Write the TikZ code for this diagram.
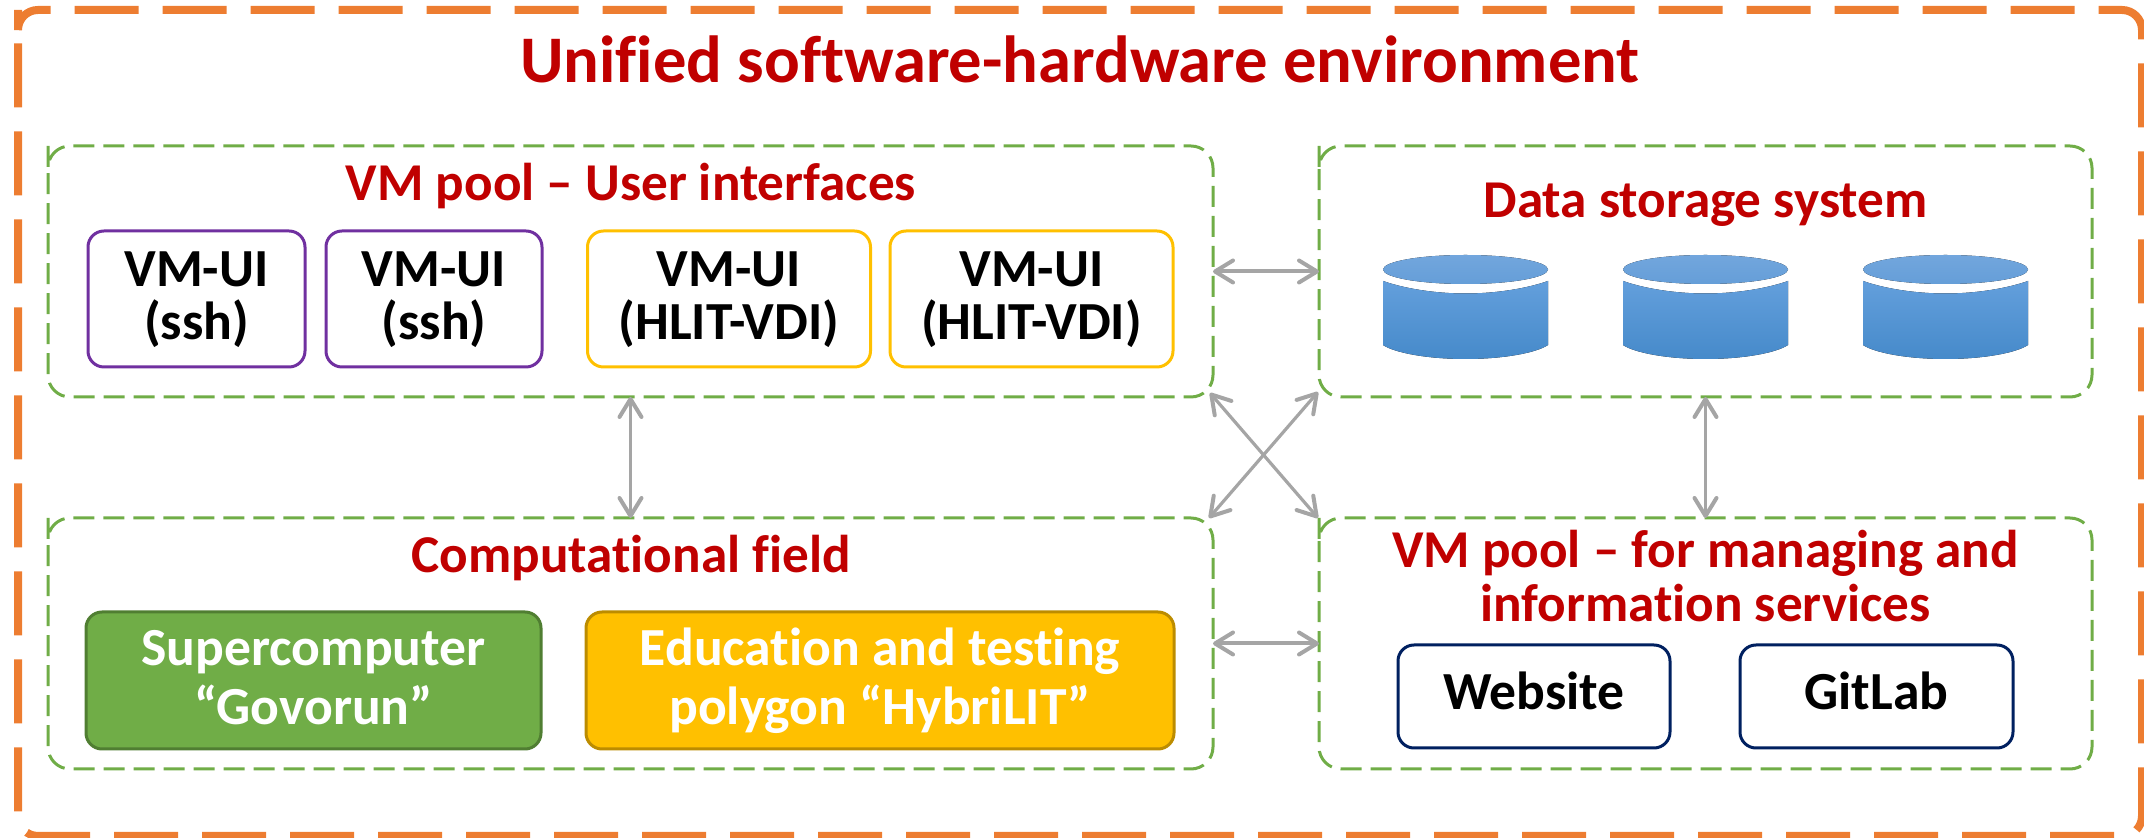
\documentclass[tikz,border=0pt]{standalone}
\usepackage{fontspec}
\setmainfont[Ligatures=NoCommon]{Carlito}
\usetikzlibrary{arrows.meta,calc}
\definecolor{outerc}{HTML}{ED7D31}
\definecolor{greenc}{HTML}{70AD47}
\definecolor{titlec}{HTML}{C00000}
\definecolor{purplec}{HTML}{7030A0}
\definecolor{yellowc}{HTML}{FFC000}
\definecolor{navyc}{HTML}{002060}
\definecolor{arrowc}{HTML}{A5A5A5}
\definecolor{greendk}{HTML}{507E32}
\definecolor{yellowdk}{HTML}{BC8C00}
\definecolor{drumT}{HTML}{72A6DD}
\definecolor{drumC}{HTML}{659ED8}
\definecolor{drumA}{HTML}{639FDC}
\definecolor{drumB}{HTML}{468ACA}
\tikzset{
  x=0.5pt,y=-0.5pt,
  region/.style n args={2}{inner sep=0pt,outer sep=0pt,minimum width=#1*0.5pt,minimum height=#2*0.5pt},
  heading/.style={anchor=base,text=titlec,font=\fontsize{26.6}{27}\selectfont\bfseries,align=center},
  bigtitle/.style={anchor=base,text=titlec,font=\fontsize{33.3}{36}\selectfont\bfseries},
  tile/.style n args={2}{draw,line width=1.5pt,rounded corners=8pt,inner sep=0pt,outer sep=0pt,minimum width=#1*0.5pt,minimum height=#2*0.5pt,align=center,font=\fontsize{26.8}{26.5}\selectfont\bfseries,text=black},
  wide/.style={font=\fontsize{26.8}{29.5}\selectfont\bfseries},
  barb/.tip={Straight Barb[length=9pt,width=11pt,line width=2pt,round]},
  link/.style={draw=arrowc,line width=1.6pt,barb-barb},
  dashframe/.style={draw=greenc,line width=1.5pt,dash pattern=on 10.5pt off 4.5pt,rounded corners=11pt},
}
% first line with a fixed height, last line with a fixed depth, so the baselines are exact
\newcommand{\toph}[1]{\rule{0pt}{#1}}
\newcommand{\botd}{\rule[-10pt]{0pt}{0pt}}
% a PowerPoint-style round rect, its dashes starting on the left side below the top-left corner
\newcommand{\frameof}[3]{%
  \draw[#2] ($(#1.north west)+(0pt,-#3)$) -- (#1.north west) -- (#1.north east) -- (#1.south east) -- (#1.south west) -- cycle;}
\newcommand{\drum}[1]{%
  \fill[bottom color=drumB,top color=drumA] (#1,281) .. controls (#1+20,288) and (#1+50,293.5) .. (#1+82.5,293.5) .. controls (#1+115,293.5) and (#1+145,288) .. (#1+165,281) -- (#1+165,345) .. controls (#1+153,353) and (#1+120,359) .. (#1+82.5,359) .. controls (#1+45,359) and (#1+12,353) .. (#1,345) -- cycle;
  \fill[bottom color=drumC,top color=drumT] (#1+82.5,269.5) ellipse [x radius=82.5*0.5pt,y radius=14.5*0.5pt];}
\begin{document}
\begin{tikzpicture}
\useasboundingbox (0,0) rectangle (2144,838);
\node[region={2124}{826}] (env) at (1080,423) {};
\frameof{env}{draw=outerc,line width=4pt,dash pattern=on 32pt off 12pt,rounded corners=10pt}{10pt}
\node[bigtitle] (envtitle) at (1080,83) {Unified software-hardware environment};

\node[region={1165}{251}] (pool) at (630.5,271.5) {};
\node[region={773}{251}] (store) at (1705.5,271.5) {};
\node[region={1165}{251}] (comp) at (630.5,643.5) {};
\node[region={773}{251}] (mgmt) at (1705.5,643.5) {};
\frameof{pool}{dashframe}{11pt}
\frameof{store}{dashframe}{11pt}
\frameof{comp}{dashframe}{11pt}
\frameof{mgmt}{dashframe}{11pt}

\node[heading] (pooltitle) at (631,201) {VM pool – User interfaces};
\node[heading] (storetitle) at (1705.5,218) {Data storage system};
\node[heading] (comptitle) at (631,573) {Computational field};
\node[heading] (mgmttitle) at (1705.5,622) {VM pool – for managing and\\information services};

\node[tile={217}{136},draw=purplec] (ui1) at (196.5,299) {\toph{24.5pt}VM-UI\\(ssh)\botd};
\node[tile={216}{136},draw=purplec] (ui2) at (434,299) {\toph{24.5pt}VM-UI\\(ssh)\botd};
\node[tile={283}{136},draw=yellowc] (ui3) at (729,299) {\toph{24.5pt}VM-UI\\(HLIT-VDI)\botd};
\node[tile={283}{136},draw=yellowc] (ui4) at (1031.5,299) {\toph{24.5pt}VM-UI\\(HLIT-VDI)\botd};

\node[tile={455}{137},draw=greendk,fill=greenc,text=white,wide] (sc) at (313.5,680.5) {\toph{25pt}Supercomputer\\“Govorun”\botd};
\node[tile={588}{137},draw=yellowdk,fill=yellowc,text=white,wide] (poly) at (880,680.5) {\toph{25pt}Education and testing\\polygon “HybriLIT”\botd};
\node[tile={272}{103},draw=navyc] (web) at (1534,696.5) {\toph{23.5pt}Website\botd};
\node[tile={273}{103},draw=navyc] (git) at (1876.5,696.5) {\toph{23.5pt}GitLab\botd};

\drum{1383}
\drum{1623}
\drum{1863}

\draw[link,line width=2pt] (pool.east) -- (store.west);
\draw[link,line width=2pt] (comp.east) -- (mgmt.west);
\draw[link] (pool.south) -- (comp.north);
\draw[link] (store.south) -- (mgmt.north);
\draw[link] ($(pool.south east)+(-3,-4)$) -- ($(mgmt.north west)+(-1,0)$);
\draw[link] ($(store.south west)+(-1,-5)$) -- ($(comp.north east)+(-4,0)$);
\end{tikzpicture}
\end{document}
